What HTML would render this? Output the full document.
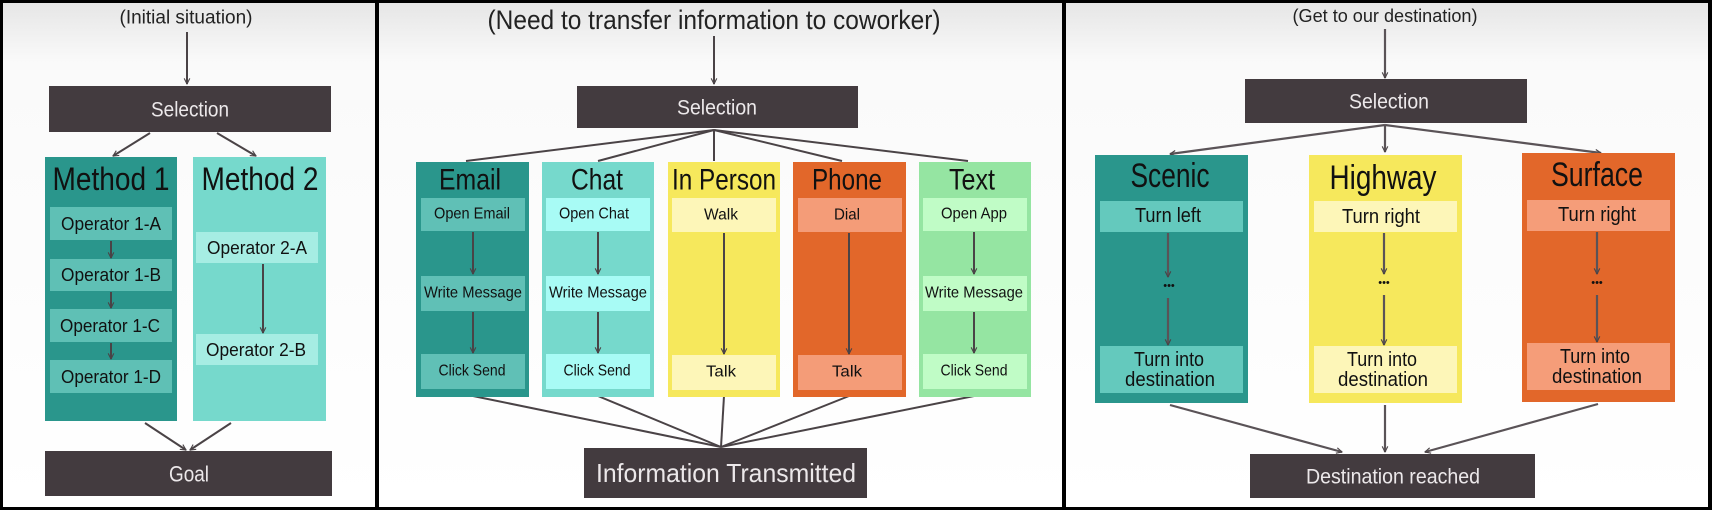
<!DOCTYPE html>
<html><head><meta charset="utf-8"><style>
html,body{margin:0;padding:0;background:#000;}
svg{display:block}
text{font-family:"Liberation Sans",sans-serif;text-anchor:middle;dominant-baseline:central}
.dk{fill:#433b3f}
.wt{fill:#ece8ea}
.bk{fill:#111}
.ln{stroke:#4a4346;stroke-width:2;fill:none}
.lg{stroke:#5a5357;stroke-width:2.2;fill:none}
</style></head><body>
<svg width="1712" height="510" viewBox="0 0 1712 510" xmlns="http://www.w3.org/2000/svg">
<defs>
<marker id="a" viewBox="0 0 10 10" refX="9" refY="5" markerWidth="7" markerHeight="7" orient="auto" markerUnits="userSpaceOnUse">
<path d="M1,1 L9,5 L1,9" fill="none" stroke="#4a4346" stroke-width="1.6"/></marker>
<linearGradient id="g" x1="0" y1="0" x2="0" y2="1"><stop offset="0" stop-color="#e6e6e6"/><stop offset="0.12" stop-color="#fafafa"/><stop offset="1" stop-color="#ffffff"/></linearGradient>
</defs>
<rect width="1712" height="510" fill="#000"/>
<rect x="3" y="3" width="372" height="504" fill="url(#g)"/>
<rect x="379" y="3" width="683" height="504" fill="url(#g)"/>
<rect x="1066" y="3" width="642" height="504" fill="url(#g)"/>

<!-- Panel 1 -->
<text x="186" y="18" font-size="19" fill="#222" textLength="133" lengthAdjust="spacingAndGlyphs">(Initial situation)</text>
<line x1="187" y1="32" x2="187" y2="84" class="ln" marker-end="url(#a)"/>
<rect x="49" y="86" width="282" height="46" class="dk"/>
<text x="190" y="110" font-size="21" class="wt" textLength="78" lengthAdjust="spacingAndGlyphs">Selection</text>
<line x1="150" y1="133" x2="113" y2="156" class="ln" marker-end="url(#a)"/>
<line x1="217" y1="133" x2="256" y2="156" class="ln" marker-end="url(#a)"/>
<rect x="45" y="157" width="132" height="264" fill="#2a968c"/>
<rect x="193" y="157" width="133" height="264" fill="#76d9cc"/>
<text x="111" y="179" font-size="32" class="bk" textLength="117" lengthAdjust="spacingAndGlyphs">Method 1</text>
<text x="260" y="179" font-size="32" class="bk" textLength="117" lengthAdjust="spacingAndGlyphs">Method 2</text>
<g fill="#5fc0b5">
<rect x="50" y="207" width="122" height="33"/><rect x="50" y="259" width="122" height="32"/>
<rect x="50" y="309" width="122" height="33"/><rect x="50" y="360" width="122" height="33"/></g>
<g fill="#a6ede3"><rect x="196" y="232" width="122" height="31"/><rect x="196" y="334" width="122" height="31"/></g>
<g font-size="18" class="bk">
<text x="111" y="224" textLength="100" lengthAdjust="spacingAndGlyphs">Operator 1-A</text><text x="111" y="275" textLength="100" lengthAdjust="spacingAndGlyphs">Operator 1-B</text>
<text x="110" y="326" textLength="100" lengthAdjust="spacingAndGlyphs">Operator 1-C</text><text x="111" y="377" textLength="100" lengthAdjust="spacingAndGlyphs">Operator 1-D</text>
<text x="257" y="248" textLength="100" lengthAdjust="spacingAndGlyphs">Operator 2-A</text><text x="256" y="350" textLength="100" lengthAdjust="spacingAndGlyphs">Operator 2-B</text></g>
<line x1="111" y1="241" x2="111" y2="258" class="ln" marker-end="url(#a)"/>
<line x1="111" y1="292" x2="111" y2="308" class="ln" marker-end="url(#a)"/>
<line x1="111" y1="343" x2="111" y2="359" class="ln" marker-end="url(#a)"/>
<line x1="263" y1="264" x2="263" y2="333" class="ln" marker-end="url(#a)"/>
<line x1="145" y1="423" x2="186" y2="450" class="ln" marker-end="url(#a)"/>
<line x1="231" y1="423" x2="190" y2="450" class="ln" marker-end="url(#a)"/>
<rect x="45" y="451" width="287" height="45" class="dk"/>
<text x="189" y="474" font-size="22" class="wt" textLength="40" lengthAdjust="spacingAndGlyphs">Goal</text>

<!-- Panel 2 -->
<text x="714" y="20" font-size="27" fill="#222" textLength="453" lengthAdjust="spacingAndGlyphs">(Need to transfer information to coworker)</text>
<line x1="714" y1="36" x2="714" y2="84" class="ln" marker-end="url(#a)"/>
<rect x="577" y="86" width="281" height="42" class="dk"/>
<text x="717" y="108" font-size="21" class="wt" textLength="80" lengthAdjust="spacingAndGlyphs">Selection</text>
<g class="ln" stroke-width="2.4">
<line x1="714" y1="130" x2="466" y2="161"/><line x1="714" y1="130" x2="598" y2="161"/>
<line x1="714" y1="130" x2="714" y2="161"/><line x1="714" y1="130" x2="842" y2="161"/>
<line x1="714" y1="130" x2="968" y2="161"/>
<line x1="473" y1="396" x2="721" y2="447"/><line x1="598" y1="396" x2="721" y2="447"/>
<line x1="724" y1="396" x2="721" y2="447"/><line x1="849" y1="396" x2="721" y2="447"/>
<line x1="974" y1="396" x2="721" y2="447"/></g>
<rect x="416" y="162" width="113" height="235" fill="#2a968c"/>
<rect x="542" y="162" width="112" height="235" fill="#76d9cc"/>
<rect x="668" y="162" width="112" height="235" fill="#f6e85c"/>
<rect x="793" y="162" width="113" height="235" fill="#e2672a"/>
<rect x="919" y="162" width="112" height="235" fill="#95e5a2"/>
<g font-size="30" class="bk">
<text x="470" y="180" textLength="62" lengthAdjust="spacingAndGlyphs">Email</text><text x="597" y="180" textLength="52" lengthAdjust="spacingAndGlyphs">Chat</text><text x="724" y="180" textLength="104" lengthAdjust="spacingAndGlyphs">In Person</text>
<text x="847" y="180" textLength="70" lengthAdjust="spacingAndGlyphs">Phone</text><text x="972" y="180" textLength="46" lengthAdjust="spacingAndGlyphs">Text</text></g>
<g fill="#60c0b6"><rect x="421" y="198" width="104" height="33"/><rect x="421" y="276" width="104" height="35"/><rect x="421" y="354" width="104" height="35"/></g>
<g fill="#a8fbf5"><rect x="546" y="198" width="104" height="33"/><rect x="546" y="276" width="104" height="35"/><rect x="546" y="354" width="104" height="35"/></g>
<g fill="#fdf6b8"><rect x="672" y="198" width="104" height="34"/><rect x="672" y="355" width="104" height="35"/></g>
<g fill="#f49c78"><rect x="798" y="198" width="104" height="34"/><rect x="798" y="355" width="104" height="35"/></g>
<g fill="#c0fcc6"><rect x="923" y="198" width="104" height="33"/><rect x="923" y="276" width="104" height="35"/><rect x="923" y="354" width="104" height="35"/></g>
<g font-size="16" class="bk">
<text x="472" y="214" textLength="76" lengthAdjust="spacingAndGlyphs">Open Email</text><text x="473" y="293" textLength="98" lengthAdjust="spacingAndGlyphs">Write Message</text><text x="472" y="371" textLength="67" lengthAdjust="spacingAndGlyphs">Click Send</text>
<text x="594" y="214" textLength="70" lengthAdjust="spacingAndGlyphs">Open Chat</text><text x="598" y="293" textLength="98" lengthAdjust="spacingAndGlyphs">Write Message</text><text x="597" y="371" textLength="67" lengthAdjust="spacingAndGlyphs">Click Send</text>
<text x="721" y="215" textLength="34" lengthAdjust="spacingAndGlyphs">Walk</text><text x="721" y="372" textLength="30" lengthAdjust="spacingAndGlyphs">Talk</text>
<text x="847" y="215" textLength="26" lengthAdjust="spacingAndGlyphs">Dial</text><text x="847" y="372" textLength="30" lengthAdjust="spacingAndGlyphs">Talk</text>
<text x="974" y="214" textLength="66" lengthAdjust="spacingAndGlyphs">Open App</text><text x="974" y="293" textLength="98" lengthAdjust="spacingAndGlyphs">Write Message</text><text x="974" y="371" textLength="67" lengthAdjust="spacingAndGlyphs">Click Send</text></g>
<g class="ln">
<line x1="473" y1="232" x2="473" y2="274" marker-end="url(#a)"/><line x1="473" y1="312" x2="473" y2="353" marker-end="url(#a)"/>
<line x1="598" y1="232" x2="598" y2="274" marker-end="url(#a)"/><line x1="598" y1="312" x2="598" y2="353" marker-end="url(#a)"/>
<line x1="724" y1="233" x2="724" y2="354" marker-end="url(#a)"/>
<line x1="849" y1="233" x2="849" y2="354" marker-end="url(#a)"/>
<line x1="974" y1="232" x2="974" y2="274" marker-end="url(#a)"/><line x1="974" y1="312" x2="974" y2="353" marker-end="url(#a)"/></g>
<rect x="584" y="448" width="283" height="50" class="dk"/>
<text x="726" y="473" font-size="26" class="wt" textLength="260" lengthAdjust="spacingAndGlyphs">Information Transmitted</text>

<!-- Panel 3 -->
<text x="1385" y="16" font-size="18" fill="#222" textLength="185" lengthAdjust="spacingAndGlyphs">(Get to our destination)</text>
<line x1="1385" y1="29" x2="1385" y2="78" class="lg" marker-end="url(#a)"/>
<rect x="1245" y="79" width="282" height="44" class="dk"/>
<text x="1389" y="102" font-size="21" class="wt" textLength="80" lengthAdjust="spacingAndGlyphs">Selection</text>
<g class="lg">
<line x1="1385" y1="125" x2="1170" y2="154" marker-end="url(#a)"/>
<line x1="1385" y1="125" x2="1385" y2="152" marker-end="url(#a)"/>
<line x1="1385" y1="125" x2="1601" y2="153" marker-end="url(#a)"/></g>
<rect x="1095" y="155" width="153" height="248" fill="#2a968c"/>
<rect x="1309" y="155" width="153" height="248" fill="#f6e85c"/>
<rect x="1522" y="153" width="153" height="249" fill="#e2672a"/>
<g font-size="34" class="bk">
<text x="1170" y="176" textLength="79" lengthAdjust="spacingAndGlyphs">Scenic</text><text x="1383" y="178" textLength="107" lengthAdjust="spacingAndGlyphs">Highway</text><text x="1597" y="175" textLength="92" lengthAdjust="spacingAndGlyphs">Surface</text></g>
<rect x="1100" y="201" width="143" height="31" fill="#64c9bd"/>
<rect x="1314" y="201" width="143" height="31" fill="#fdf6b8"/>
<rect x="1527" y="200" width="143" height="31" fill="#f59d79"/>
<rect x="1100" y="346" width="143" height="47" fill="#64c9bd"/>
<rect x="1314" y="346" width="143" height="47" fill="#fdf6b8"/>
<rect x="1527" y="343" width="143" height="47" fill="#f59d79"/>
<g font-size="20" class="bk">
<text x="1168" y="216" textLength="66" lengthAdjust="spacingAndGlyphs">Turn left</text><text x="1381" y="217" textLength="78" lengthAdjust="spacingAndGlyphs">Turn right</text><text x="1597" y="215" textLength="78" lengthAdjust="spacingAndGlyphs">Turn right</text>
<text x="1169" y="360" textLength="70" lengthAdjust="spacingAndGlyphs">Turn into</text><text x="1170" y="380" textLength="90" lengthAdjust="spacingAndGlyphs">destination</text>
<text x="1382" y="360" textLength="70" lengthAdjust="spacingAndGlyphs">Turn into</text><text x="1383" y="380" textLength="90" lengthAdjust="spacingAndGlyphs">destination</text>
<text x="1595" y="357" textLength="70" lengthAdjust="spacingAndGlyphs">Turn into</text><text x="1597" y="377" textLength="90" lengthAdjust="spacingAndGlyphs">destination</text></g>
<g font-size="11" class="bk">
<text x="1169" y="286">•••</text><text x="1384" y="283">•••</text><text x="1597" y="283">•••</text></g>
<g class="lg">
<line x1="1168" y1="233" x2="1168" y2="277" marker-end="url(#a)"/><line x1="1168" y1="298" x2="1168" y2="345" marker-end="url(#a)"/>
<line x1="1384" y1="233" x2="1384" y2="274" marker-end="url(#a)"/><line x1="1384" y1="295" x2="1384" y2="345" marker-end="url(#a)"/>
<line x1="1597" y1="232" x2="1597" y2="274" marker-end="url(#a)"/><line x1="1597" y1="295" x2="1597" y2="342" marker-end="url(#a)"/>
<line x1="1170" y1="405" x2="1342" y2="452" marker-end="url(#a)"/>
<line x1="1385" y1="405" x2="1385" y2="452" marker-end="url(#a)"/>
<line x1="1598" y1="404" x2="1425" y2="452" marker-end="url(#a)"/></g>
<rect x="1250" y="454" width="285" height="44" class="dk"/>
<text x="1393" y="477" font-size="21" class="wt" textLength="174" lengthAdjust="spacingAndGlyphs">Destination reached</text>
</svg>
</body></html>
